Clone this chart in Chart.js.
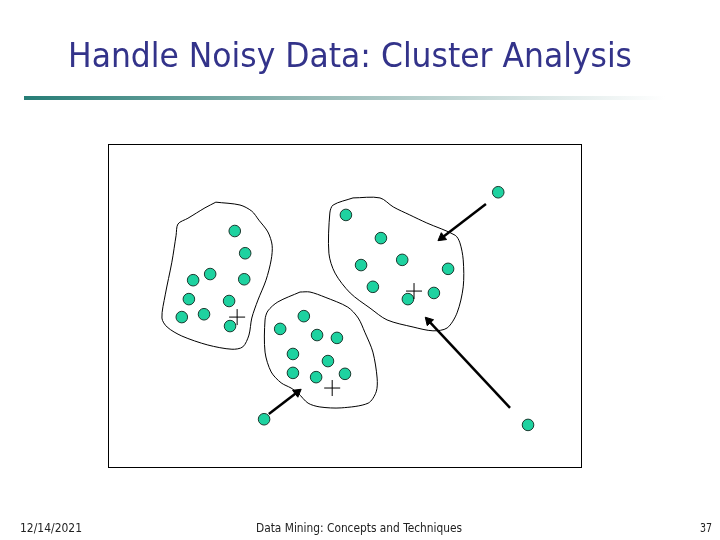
<!DOCTYPE html>
<html>
<head>
<meta charset="utf-8">
<script src="https://cdn.jsdelivr.net/npm/chart.js@4"></script>
<style>
  html, body { margin: 0; padding: 0; background: #fff; }
  #wrap { width: 720px; height: 540px; position: relative; }
</style>
</head>
<body>
<div id="wrap"><canvas id="chart"></canvas></div>
<script>
const TITLE = 'Handle Noisy Data: Cluster Analysis';
const FOOT_DATE = '12/14/2021';
const FOOT_TEXT = 'Data Mining: Concepts and Techniques';
const FOOT_PAGE = '37';

// data space of the diagram: x 0..100, y 0..68.3
const X_RANGE = [0, 100];
const Y_RANGE = [0, 68.3];

const clusterA = [
  [26.8, 49.9], [29.0, 45.2], [21.6, 40.8], [18.0, 39.5], [28.8, 39.7],
  [17.1, 35.5], [25.6, 35.1], [15.6, 31.7], [20.3, 32.3], [25.8, 29.8]
];
const clusterB = [
  [50.3, 53.3], [57.7, 48.4], [53.5, 42.7], [62.2, 43.8],
  [71.9, 41.9], [56.0, 38.1], [68.9, 36.8], [63.4, 35.5]
];
const clusterC = [
  [41.4, 31.9], [36.4, 29.2], [44.2, 27.9], [48.4, 27.3], [39.1, 23.9],
  [46.5, 22.4], [39.1, 19.9], [44.0, 19.0], [50.1, 19.7]
];
const outliers = [[82.5, 58.1], [33.0, 10.1], [88.8, 8.9]];
const centers = [[27.3, 31.7], [64.7, 37.2], [47.4, 16.7]];

const outlineA = [
  [22.8, 56.0], [27.9, 55.4], [30.4, 54.1], [31.9, 52.2], [33.8, 49.7], [34.7, 46.9],
  [34.5, 43.8], [33.4, 39.5], [31.7, 35.3], [30.4, 31.5], [29.8, 27.9], [28.5, 25.4],
  [26.2, 24.9], [21.1, 25.8], [15.6, 27.7], [12.5, 29.6], [11.4, 31.5], [12.1, 36.4],
  [13.5, 43.3], [14.4, 49.0], [14.8, 51.4], [16.9, 52.6], [20.5, 54.8], [22.8, 56.0]
];
const outlineB = [
  [51.8, 56.9], [57.5, 56.9], [60.3, 55.0], [63.8, 53.3], [67.4, 51.6], [73.4, 49.0],
  [74.4, 47.4], [75.1, 43.8], [75.1, 38.1], [73.8, 32.6], [71.7, 29.4], [68.7, 28.8],
  [64.5, 29.6], [59.0, 31.1], [55.4, 33.6], [51.2, 36.8], [48.0, 41.0], [46.7, 45.2],
  [46.9, 53.7], [47.6, 55.4], [51.8, 56.9]
];
const outlineC = [
  [40.6, 37.0], [35.9, 34.9], [33.8, 33.0], [33.2, 31.1], [33.2, 24.3], [34.5, 20.1],
  [36.6, 17.8], [38.7, 16.7], [40.2, 15.6], [42.3, 13.5], [44.8, 12.7], [49.3, 12.5],
  [55.0, 13.5], [56.7, 15.9], [56.9, 18.8], [56.0, 24.3], [54.3, 28.5], [52.9, 31.5],
  [50.7, 33.8], [45.9, 35.9], [42.7, 37.0], [40.6, 37.0]
];
// arrows: [tail, head]
const arrows = [
  [[79.9, 55.6], [70.6, 48.5]],
  [[85.0, 12.5], [67.8, 30.9]],
  [[34.0, 11.2], [40.0, 15.8]]
];

const pts = a => a.map(([x, y]) => ({ x, y }));

const datasets = [];
[outlineA, outlineB, outlineC].forEach(o => {
  datasets.push({
    data: pts(o), showLine: true, borderColor: '#000', borderWidth: 1,
    pointRadius: 0, tension: 0.3, fill: false
  });
});
arrows.forEach(([t, h]) => {
  const ang = Math.atan2(-(h[1] - t[1]), h[0] - t[0]) * 180 / Math.PI + 90;
  datasets.push({
    data: pts([t, h]), showLine: true, borderColor: '#000', borderWidth: 2.5,
    pointRadius: [0, 5], pointStyle: 'triangle', rotation: ang,
    pointBackgroundColor: '#000', pointBorderColor: '#000', pointBorderWidth: 1
  });
});
datasets.push({
  data: pts(centers), pointStyle: 'cross', pointRadius: 8,
  pointBorderColor: '#000', pointBorderWidth: 1
});
datasets.push({
  data: pts([...clusterA, ...clusterB, ...clusterC, ...outliers]),
  pointStyle: 'circle', pointRadius: 5.8,
  pointBackgroundColor: '#1ed2a0', pointBorderColor: '#1b3b30', pointBorderWidth: 1
});

const slidePlugin = {
  id: 'slide',
  beforeDraw(chart) {
    const ctx = chart.ctx;
    ctx.save();
    ctx.fillStyle = '#fff';
    ctx.fillRect(0, 0, chart.width, chart.height);

    // title
    ctx.fillStyle = '#33338a';
    ctx.font = '33px "DejaVu Sans Condensed", "DejaVu Sans", sans-serif';
    ctx.textBaseline = 'alphabetic';
    const tw = ctx.measureText(TITLE).width;
    const sx = 564 / tw;
    ctx.save();
    ctx.translate(68, 67);
    ctx.scale(sx, 1);
    ctx.fillText(TITLE, 0, 0);
    ctx.restore();

    // rule under title
    const g = ctx.createLinearGradient(24, 0, 665, 0);
    g.addColorStop(0, 'rgb(38,125,118)');
    g.addColorStop(0.45, 'rgb(150,185,182)');
    g.addColorStop(1, 'rgba(255,255,255,1)');
    ctx.fillStyle = g;
    ctx.fillRect(24, 96, 641, 4);

    // footer
    ctx.fillStyle = '#222';
    ctx.font = '12px "DejaVu Sans Condensed", "DejaVu Sans", sans-serif';
    ctx.textBaseline = 'middle';
    const fit = (s, x, w, align) => {
      const m = ctx.measureText(s).width;
      ctx.save();
      const k = w / m;
      let x0 = x;
      if (align === 'center') x0 = x - w / 2;
      if (align === 'right') x0 = x - w;
      ctx.translate(x0, 529);
      ctx.scale(k, 1);
      ctx.textAlign = 'left';
      ctx.fillText(s, 0, 0);
      ctx.restore();
    };
    fit(FOOT_DATE, 20, 62, 'left');
    fit(FOOT_TEXT, 359, 206, 'center');
    fit(FOOT_PAGE, 712, 12, 'right');
    ctx.restore();
  },
  afterDraw(chart) {
    const { left, top, right, bottom } = chart.chartArea;
    const ctx = chart.ctx;
    ctx.save();
    ctx.strokeStyle = '#000';
    ctx.lineWidth = 1;
    ctx.strokeRect(Math.round(left) + 0.5, Math.round(top) + 0.5,
      Math.round(right - left), Math.round(bottom - top));
    ctx.restore();
  }
};

new Chart(document.getElementById('chart'), {
  type: 'scatter',
  data: { datasets },
  options: {
    responsive: true,
    maintainAspectRatio: false,
    animation: false,
    events: [],
    clip: false,
    layout: { padding: { left: 108, right: 139, top: 144, bottom: 73 } },
    scales: {
      x: { type: 'linear', min: X_RANGE[0], max: X_RANGE[1], display: false },
      y: { type: 'linear', min: Y_RANGE[0], max: Y_RANGE[1], display: false }
    },
    plugins: { legend: { display: false }, tooltip: { enabled: false } }
  },
  plugins: [slidePlugin]
});
</script>
</body>
</html>
